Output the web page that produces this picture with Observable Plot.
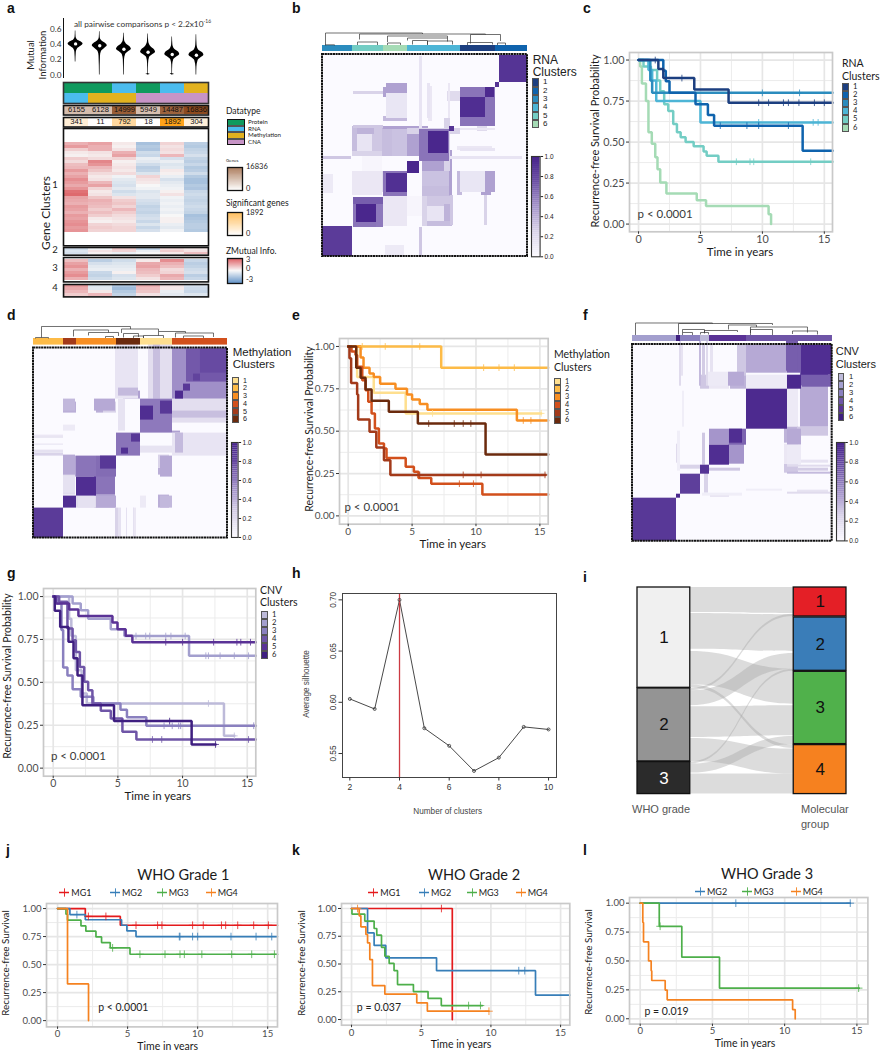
<!DOCTYPE html>
<html><head><meta charset="utf-8">
<style>
html,body{margin:0;padding:0;background:#fff}
#page{position:relative;width:880px;height:1050px;overflow:hidden;background:#fff}
#page svg{position:absolute;overflow:visible;background:transparent}
.t{position:absolute;white-space:nowrap;line-height:1}
.s{position:absolute;box-sizing:border-box}
sup{font-size:60%;line-height:0}
</style>
<script src="https://cdn.jsdelivr.net/npm/d3@7"></script>
<script src="https://cdn.jsdelivr.net/npm/@observablehq/plot@0.6"></script>
</head><body><div id="page"></div>
<script>
// ---------- palettes ----------
const rnaColors=["#1c3f80","#0f63ad","#2b8cbe","#4db5d6","#73cdc4","#a5dbb5"];
const metColors=["#fedf8f","#fdbb47","#f78e22","#d2501c","#a33a1a","#6b2a0d"];
const cnvColors=["#bdbad9","#a39fce","#8a80bf","#6f55a7","#5a3296","#3f1f80"];
const mgColors={MG1:"#e41a1c",MG2:"#377eb8",MG3:"#4daf4a",MG4:"#f58220"};
const clusterLabels=["1","2","3","4","5","6"];
const purpleDomain=[0,.25,.5,.75,1];
const purpleRange=["#fbfaff","#d9d3e9","#a595cb","#6c50a5","#45218a"];

// ---------- panel a ----------
const pairTop=["Protein","Protein","RNA","Protein","RNA","Methylation"];
const pairBottom=["RNA","Methylation","Methylation","CNA","CNA","CNA"];
const typeColors={Protein:"#0f9a5e",RNA:"#4bbcee",Methylation:"#e2b21f",CNA:"#c794c6"};
const geneCounts=[6155,6128,14999,5949,14487,16836];
const sigCounts=[341,11,792,18,1892,304];
const violinMedians=[.41,.385,.34,.30,.27,.26];
const violinProfiles=[
 [[.58,.01],[.50,.02],[.46,.08],[.44,.2],[.41,.31],[.38,.22],[.35,.09],[.30,.03],[.17,.012]],
 [[.57,.01],[.49,.02],[.45,.08],[.42,.22],[.385,.31],[.35,.2],[.31,.07],[.25,.03],[.0,.012]],
 [[.55,.01],[.46,.025],[.41,.1],[.37,.26],[.34,.31],[.31,.2],[.27,.07],[.2,.025],[.0,.012]],
 [[.54,.01],[.44,.025],[.38,.1],[.33,.27],[.30,.31],[.27,.2],[.23,.06],[.15,.02],[.02,.012],[.01,.08],[.0,.01]],
 [[.50,.01],[.40,.025],[.34,.1],[.30,.27],[.27,.31],[.24,.2],[.2,.06],[.13,.02],[.02,.012],[.01,.08],[.0,.01]],
 [[.53,.01],[.40,.025],[.33,.09],[.29,.27],[.26,.31],[.23,.2],[.19,.07],[.1,.02],[.0,.012]]
];
const zCluster1=[
[1.0,1.2,.2,-1.2,.5,-.9],[1.3,1.0,.1,-1.0,.3,-1.0],[.6,1.0,.3,-1.1,.4,-.8],[.2,.3,1.0,-.6,.3,-.7],
[.1,.2,1.2,-.7,.9,-.5],[.6,.4,.5,-.2,-.5,-.8],[.4,1.6,.1,-.3,-.2,-.9],[.8,1.4,.2,-.6,-.4,-.7],
[.9,.9,.3,-.9,-.3,-1.0],[1.3,.7,.2,-.8,.2,-.9],[1.0,.4,.4,-.4,.1,-.6],[1.2,.2,-.1,.5,-.2,-1.0],
[1.5,.3,-.3,.3,-.5,-1.2],[1.3,.9,-.4,.2,-.3,-1.2],[1.1,1.2,-.5,0,-.2,-1.0],[1.4,.5,-.3,-.1,-.1,-1.1],
[1.9,.2,-.6,-.4,.1,-.7],[2.0,.3,-.4,-.3,.3,-.6],[1.2,.7,.3,-.3,-.1,-.7],[1.1,1.0,.6,-.5,-.2,-.8],
[1.0,.9,.7,-.6,-.1,-.7],[1.3,.8,.5,-.8,-.2,-.6],[1.2,.6,.9,-.7,-.1,-.7],[1.0,.8,.6,-.8,-.2,-.8],
[1.3,.6,.4,-.6,0,-1.2],[1.2,.2,.3,-.5,.1,-1.1],[1.4,.1,.2,-.7,.1,-1.0],[1.5,.5,.4,-.4,-.2,-.9],
[1.3,.6,.5,-.7,-.3,-.9],[1.4,.5,.5,-.5,-.1,-1.0]];
const zCluster2=[[-.6,-.1,.6,-.8,.4,.2],[-.4,.3,.5,-.2,.6,.3],[-.5,.1,-.2,0,.2,.8]];
const zCluster3=[[.8,-.9,-.6,.2,1.5,-.7],[1.2,-.5,-.4,1.1,1.0,-.9],[1.4,-.3,-.3,1.2,.8,-.8],[1.0,-.2,-.2,.9,.4,-.6],
[1.3,-.7,.1,.8,.5,-.5],[1.5,-.8,-.5,.6,1.1,-.9],[1.0,-.6,-.4,.3,.9,-.7]];
const zCluster4=[[1.3,-.4,-1.1,1.0,.3,-.5],[1.1,-.3,-1.3,.8,.2,-.6],[.9,.2,-1.0,.7,-.2,-.7],[.6,.9,-.8,.3,-.3,-.4]];

// ---------- consensus blocks: [sampleFrom, sampleTo, sampleFrom2, sampleTo2, consensus] ----------
const bBounds=[[0,30,"3"],[30,61,"5"],[61,85,"6"],[85,138,"4"],[138,173,"1"],[173,205,"2"]];
const bBlocks=[
[61,85,159,169,.45],[61,85,135,140,.35],[64,85,140,159,.12],[31,61,162,165,.25],[31,50,100,130,.14],[50,61,100,130,.3],[31,61,122,130,.38],
[61,85,100,130,.45],[85,106,100,130,.45],[100,127,70,85,.32],[100,127,60,70,.34],[31,61,64,85,.2],[138,163,64,85,.13],[163,173,64,85,.45],
[100,130,52,60,.3],[100,130,30,35,.34],[100,105,30,60,.25],[61,85,30,60,.12],[97,100,0,29,.3],[63,82,0,11,.1],[125,138,155,165,.2],
[97,100,100,200,.14],[106,110,135,170,.12],[138,173,105,108,.14],[138,173,126,128,.12],[85,100,40,60,.03],[31,61,128,131,.3],[85,138,122,128,.25]];
const bDiag=[
[0,30,0,30,.86],[31,61,29,59,.62],[34,54,34,52,.97],[54,61,29,59,.6],[31,61,52,59,.7],[61,85,60,85,.62],[64,85,64,83,.92],
[85,97,83,95,.97],[97,127,95,127,.62],[106,126,103,125,.97],[127,132,125,130,.9],[138,173,130,169,.62],[138,163,139,159,.93],[163,172,159,169,.95],
[173,177,169,174,.9],[177,205,174,201,.9]];
const bDendro=[[3,100,12.5,.5,11.5],[37,163,11.5,6,11],[65,125,9.5,3.5,7.5],[85,125,7.5,5,4],[148,178,11,2,4.5],[145,170,3,.5,1],[175,183,2.5,.5,.5],[105,130,4.5,.5,1],[35,55,3.5,.5,.5],[65,78,2.5,.5,.5],[3,12,.7,0,0],[90,105,5,1,1]];

const dBounds=[[0,30,"2"],[30,43,"5"],[43,83,"3"],[83,107,"6"],[107,139,"1"],[139,194,"4"]];
const dBlocks=[
[0,30,100,103,.12],[0,30,82,85,.25],[30,43,125,136,.4],[63,70,125,136,.4],[70,83,125,136,.25],[85,100,140,190,.18],[88,92,140,190,.28],[120,127,140,190,.32],
[90,107,139,147,.45],[107,139,85,92,.15],[139,194,82,105,.14],[142,150,85,105,.35],[139,194,115,139,.18],[139,194,120,127,.33],[127,139,61,82,.42],[127,139,30,42,.36],[107,113,30,42,.1],
[85,88,0,30,.16],[93,94,0,30,.16],[100,101,0,30,.16],[30,43,61,82,.45],[43,63,61,82,.62],[63,83,30,42,.42],[43,63,30,42,.2],[45,62,30,42,.16]];
const dDiag=[
[0,30,0,30,.86],[30,43,30,42,.93],[43,63,42,61,.93],[63,83,61,82,.65],[67,83,69,82,.88],[83,107,82,105,.62],[98,107,96,104,.88],[88,95,84,90,.92],
[107,139,105,139,.6],[107,120,118,132,.93],[127,139,124,137,.88],[139,194,139,190,.52],[153,194,156,189,.72],[167,194,165,189,.78],[142,150,139,147,.95],[150,157,147,154,.88],[160,167,157,164,.82]];
const dDendro=[[8,97,12,1,9.5],[40,75,8.5,2,6],[55,85,6,3,2.5],[88,125,9.5,5.5,7],[125,152,7,3,5.5],[90,105,5,1,1.5],[100,110,2.5,.5,.5],[110,130,3,.5,.5],[142,180,5.5,1,1.5],[150,170,2.5,.5,.5],[72,80,2,.5,.5],[2,15,1,0,0]];

const fBounds=[[0,44,"2"],[44,48,"6"],[48,68,"3"],[68,77,"1"],[77,114,"5"],[114,200,"4"]];
const fBlocks=[
[114,155,168,196,.42],[155,169,168,196,.7],[170,200,154,166,.7],[114,155,152,166,.1],[98,114,152,166,.38],[68,77,152,166,.3],[77,97,152,166,.12],
[70,73,165,196,.28],[78,81,165,196,.15],[105,114,165,196,.3],[48,51,165,196,.15],[155,169,96,112,.42],[155,169,76,96,.1],[48,68,72,76,.25],
[155,200,74,76,.2],[155,200,67,69,.35],[155,200,47,49,.2],[78,97,44,46,.2],[70,73,76,108,.3],[77,97,96,112,.5],[45,48,70,110,.08],[114,150,50,52,.08]];
const fDiag=[
[0,44,0,43,.88],[44,48,43,47,.96],[48,68,47,67,.84],[68,77,67,76,.9],[77,97,76,96,.93],[97,114,96,112,.68],[97,110,98,112,.93],
[114,155,112,152,.95],[155,169,152,166,.96],[169,200,166,196,.93]];
const fDendro=[[3,80,12.5,.5,12],[46,140,12,1,10.5],[50,72,6,3,3],[72,105,5,2,3.5],[118,175,8.5,2.5,3],[118,140,6,.5,.5],[160,185,4.5,1.5,1],[50,60,3,.5,.5],[68,76,3,1,1],[96,124,10.5,6,8.5]];

// ---------- survival curves: [years, survival] ----------
const c1=[[0,1],[1.6,.945],[2,.89],[4.5,.82],[7.27,.74],[15.66,.74]];
const c2=[[0,1],[2,.935],[2.2,.87],[2.5,.80],[4.6,.73],[5.6,.665],[6.1,.60],[13.25,.447],[15.66,.447]];
const c3=[[0,1],[.95,.875],[1.1,.80],[15.66,.80]];
const c4=[[0,1],[.8,.94],[1.1,.875],[1.43,.75],[5,.62],[15.66,.62]];
const c5=[[0,1],[.4,.96],[1,.94],[1.5,.875],[1.75,.81],[2.07,.73],[2.4,.69],[2.8,.61],[3.1,.56],[3.4,.53],[3.8,.50],[4.45,.475],[5.25,.443],[5.5,.417],[6.45,.38],[15.66,.38]];
const c6=[[0,1],[.13,.96],[.27,.857],[.6,.75],[.8,.56],[1.07,.49],[1.35,.407],[1.53,.335],[1.75,.254],[2.25,.187],[4.7,.146],[5.45,.11],[10.5,.06],[10.7,0],[10.7,0]];
const c1c=[1.35,3.5,9.7,10.5,11.7,12.1,12.95,14.2,15],c2c=[6.6,8.75,9.7,12.1],c3c=[10,13],c4c=[9.7,14.1,14.5],c5c=[7.9,9,9.3,13.9],c6c=[];

const e1=[[.2,1],[.7,.82],[2,.727],[4.5,.605],[15.1,.605]];
const e2=[[0,1],[7.28,.875],[15.65,.875]];
const e3=[[0,1],[.97,.935],[1.2,.875],[1.67,.84],[2,.82],[2.5,.78],[3.7,.75],[4.6,.717],[5,.687],[5.6,.66],[6.2,.626],[13.2,.563],[15.65,.563]];
const e4=[[0,1],[.26,.97],[.57,.95],[.7,.88],[1.1,.80],[1.36,.742],[1.57,.673],[1.83,.604],[2.09,.516],[2.4,.427],[2.8,.398],[3,.342],[4.5,.29],[5.14,.26],[5.5,.224],[6.5,.19],[10.5,.126],[15.65,.126]];
const e5=[[0,1],[.1,.93],[.23,.785],[.7,.717],[.78,.569],[1.67,.496],[2.2,.404],[2.8,.329],[3.3,.242],[15.45,.242]];
const e6=[[0,1],[.63,.875],[.97,.815],[1.36,.746],[1.83,.679],[3.18,.614],[5.45,.545],[10.75,.362],[15.65,.362]];
const e1c=[6.6,15.1],e2c=[1.1,2.9,5.6,10.6,11.8,13],e3c=[13.7,14.3],e4c=[8.7,9.8],e5c=[5.6,9,10.4,15.4],e6c=[6.3,8.3,9,9.6];

const g1=[[0,1],[1.23,.87],[1.4,.77],[1.75,.57],[2.2,.435],[2.6,.377],[13.2,.188],[14,.188]];
const g2=[[0,1],[1.5,.96],[2.13,.92],[2.7,.87],[4.45,.81],[5.5,.77],[10.5,.655],[15.66,.655]];
const g3=[[0,1],[.3,.96],[.64,.805],[.77,.586],[1.1,.54],[1.5,.46],[2.13,.416],[3.1,.377],[5.2,.34],[5.7,.297],[7.2,.247],[15.66,.247]];
const g4=[[0,1],[.46,.97],[1.1,.814],[1.5,.746],[1.75,.677],[2.06,.59],[2.4,.503],[2.7,.454],[3.03,.377],[3.68,.334],[4.45,.289],[5.35,.212],[6.43,.167],[15.66,.167]];
const g5=[[0,1],[.2,.96],[1.23,.924],[1.95,.887],[4.58,.849],[4.97,.81],[5.6,.771],[6.12,.734],[15.66,.734]];
const g6=[[.1,1],[.12,.917],[.54,.823],[1.18,.736],[1.57,.64],[1.88,.54],[2.26,.367],[4.7,.274],[10.7,.138],[12.55,.138]];
const g1c=[12,14],g2c=[6.4,7.15,7.46,8.7,9.1,10.2,11.8,12,12.9,14,15.1],g3c=[8.57,9.2,9.7,9.85,15.5],g4c=[7.67,8.39,15.1],g5c=[8.7,10,12.4,14.2,14.5,15.25],g6c=[9,12.55];

const j1=[[0,1],[1.98,.93],[4.48,.851],[15.7,.851]];
const j2=[[0,1],[.88,.946],[1.98,.9],[4.57,.851],[4.95,.8],[5.6,.75],[15.7,.75]];
const j3=[[0,1],[.6,.95],[.71,.896],[1.67,.845],[2.02,.798],[2.74,.747],[3.14,.696],[3.76,.649],[5.17,.592],[15.7,.592]];
const j4=[[0,1],[.71,.327],[2.21,0],[2.21,0]];
const j1c=[2.2,3.45,5.6,7.14,7.45,9.64,10.4,11.7,12,12.86,14,15.05],j2c=[1.38,8.69,8.74,9.64,10,12.38,14.17,15.29],j3c=[3.93,5.88,7.67,8.74,9.05,10.3,12.43,13.86,15.48],j4c=[];

const k1=[[0,1],[7.23,0],[7.23,0]];
const k2=[[0,1],[1.15,.78],[1.62,.667],[2.46,.556],[6.1,.44],[13.2,.22],[15.66,.22]];
const k3=[[0,1],[.03,.95],[.95,.887],[1.62,.82],[1.81,.76],[2.15,.65],[2.39,.57],[2.7,.505],[3.05,.44],[3.3,.315],[4.44,.252],[5.49,.19],[6.44,.126],[9.38,.126]];
const k4=[[0,1],[.55,.934],[.67,.835],[1.03,.766],[1.15,.69],[1.31,.54],[1.5,.306],[2.39,.228],[4.68,.15],[5.44,.075],[9.86,.075]];
const k1c=[6.45],k2c=[12,12.43],k3c=[8.4,9.25],k4c=[.43,9.86];

const l2=[[0,1],[14.54,1]];
const l3=[[0,1],[1.32,.8],[2.88,.533],[5.49,.265],[15.16,.265]];
const l4=[[0,1],[.18,.833],[.23,.666],[.58,.5],[.76,.415],[.8,.331],[1.73,.248],[1.87,.164],[10.55,.08],[10.73,0],[10.73,0]];
const l2c=[6.62,14.54],l3c=[1.38,15.12],l4c=[];

// ---------- silhouette ----------
const silK=[2,3,4,5,6,7,8,9,10];
const silV=[.6033,.5935,.70,.5747,.5575,.533,.546,.576,.5735];

// ---------- alluvial: grade, group, left from/to, right from/to ----------
const gradeBars=[["1",0,301,"#f0f0f0","#111"],["2",303,522,"#949494","#111"],["3",524,620,"#2b2b2b","#fff"]];
const groupBars=[["1",0,87,"#e41f26","#111"],["2",90,250,"#3a7db8","#111"],["3",253,470,"#50b14b","#111"],["4",473,620,"#f6811f","#111"]];
const flows=[
["1-1",0,75,0,78],["1-2",78,185,82,192],["1-3",192,292,245,350],["1-4",292,301,473,483],
["2-1",303,310,80,87],["2-2",310,355,198,245],["2-3",358,450,355,445],["2-4",453,522,485,560],
["3-2",524,530,245,251],["3-3",530,557,447,472],["3-4",560,620,560,620]];

// ---------- helpers ----------
const page=document.getElementById("page");
const SANS="'Liberation Sans',Arial,sans-serif", HUM="Lato,'Noto Sans',sans-serif";
const BLUR="blur(0.6px)";
function put(svg,left,top){svg.style.left=left+"px";svg.style.top=top+"px";page.appendChild(svg);}
function txt(x,y,s,o={}){const d=document.createElement("div");d.className="t";d.innerHTML=s;
 const st=d.style;st.left=x+"px";st.top=y+"px";st.fontSize=(o.size||11)+"px";st.fontFamily=o.font||HUM;st.color=o.color||"#1a1a1a";
 if(o.weight)st.fontWeight=o.weight;
 const ax=o.anchor==="middle"?"-50%":o.anchor==="end"?"-100%":"0";
 st.transform=`translate(${ax},-50%)`+(o.rotate?` rotate(${o.rotate}deg)`:"");
 page.appendChild(d);}
function box(x,y,w,h,fill,stroke){const d=document.createElement("div");d.className="s";d.style.cssText=`left:${x}px;top:${y}px;width:${w}px;height:${h}px;background:${fill};border:${stroke||"1px solid #555"}`;page.appendChild(d);}
function swatches(x,y,w,totalH,colors,labels,labelX,size,font){const h=totalH/colors.length;
 colors.forEach((c,i)=>{box(x,y+i*h,w,h,c);txt(labelX,y+(i+.5)*h,labels[i],{size:size||7.6,font:font||HUM});});}
function stepAt(curve,t){let s=curve[0][1];for(const p of curve){if(p[0]<=t)s=p[1];}return s;}

function km(o){
 const mL=40,mR=6,mT=4,mB=22;
 const W=o.R-o.L,H=o.B-o.T;
 const lines=o.series.flatMap(s=>s.curve.map(([t,v])=>({t,v,name:s.name,color:s.color})));
 const marks=o.series.flatMap(s=>s.cens.map(t=>({t,v:stepAt(s.curve,t),color:s.color})));
 const fs=o.tickSize||10.8;
 put(Plot.plot({width:W+mL+mR,height:H+mT+mB,marginLeft:mL,marginRight:mR,marginTop:mT,marginBottom:mB,
  style:{fontFamily:HUM,background:"transparent"},
  x:{domain:o.xd,axis:null},y:{domain:o.yd,axis:null},color:{type:"identity"},
  marks:[
   Plot.ruleX([2.5,7.5,12.5],{stroke:"#ececec",strokeWidth:1}),
   Plot.ruleY([.125,.375,.625,.875],{stroke:"#ececec",strokeWidth:1}),
   Plot.ruleX([0,5,10,15],{stroke:"#e6e6e6",strokeWidth:1.7}),
   Plot.ruleY([0,.25,.5,.75,1],{stroke:"#e6e6e6",strokeWidth:1.7}),
   Plot.line(lines,{x:"t",y:"v",z:"name",stroke:"color",strokeWidth:o.sw||2.5,curve:"step-after",strokeLinejoin:"miter"}),
   Plot.dot(marks,{x:"t",y:"v",symbol:"plus",r:o.cr||2.3,stroke:"color",strokeWidth:.8}),
   Plot.frame({stroke:"#c9c9c9",strokeWidth:1.7}),
   Plot.axisX({ticks:[0,5,10,15],tickSize:2.5,tickPadding:1,fontSize:fs,color:"#4d4d4d",stroke:"#333",label:null,tickFormat:"d"}),
   Plot.axisY({ticks:[0,.25,.5,.75,1],tickSize:3,tickPadding:2,fontSize:fs,color:"#4d4d4d",stroke:"#333",label:null,tickFormat:".2f"}),
   Plot.text([o.p],{x:o.px,y:o.py,text:d=>d,textAnchor:"start",fontSize:o.pSize||11.5,fill:o.pColor||"#3a3a3a"})
  ]}),o.L-mL,o.T-mT);
}
function seg(data){ // U-shaped dendrogram merges
 return data.flatMap(([a,b,h,hl,hr])=>[{x1:a,x2:b,y1:h,y2:h},{x1:a,x2:a,y1:h,y2:hl},{x1:b,x2:b,y1:h,y2:hr}]);
}
function consensus(o){
 const ann=o.annotGap,bar=o.annotH,dh=o.dendroH,H=o.H,W=o.W,top=ann+bar+dh+1;
 const rows=o.blocks.flatMap(([a,b,c,d,v])=>[{x1:a,x2:b,y1:c,y2:d,v},{x1:c,x2:d,y1:a,y2:b,v}]);
 const diag=o.diag.map(([a,b,c,d,v])=>({x1:a,x2:b,y1:c,y2:d,v}));
 const base=H+ann+bar;
 const segs=seg(o.dendro).map(s=>({x1:s.x1,x2:s.x2,y1:base+s.y1,y2:base+s.y2}));
 const annRows=o.bounds.map(([a,b,k])=>({x1:a,x2:b,fill:o.colors[+k-1]}));
 put(Plot.plot({width:W+2,height:H+top+2,marginLeft:1,marginRight:1,marginTop:1,marginBottom:1,
  x:{domain:[0,W],axis:null},y:{domain:[0,H+top],axis:null},
  color:{type:"linear",domain:purpleDomain,range:purpleRange,interpolate:"rgb"},
  style:{background:"transparent"},
  marks:[
   Plot.rect([{v:0}],{x1:()=>0,x2:()=>W,y1:()=>0,y2:()=>H,fill:"v"}),
   Plot.rect(rows,{x1:"x1",x2:"x2",y1:"y1",y2:"y2",fill:"v",imageFilter:BLUR}),
   Plot.rect(diag,{x1:"x1",x2:"x2",y1:"y1",y2:"y2",fill:"v",imageFilter:BLUR}),
   Plot.rect([0],{x1:()=>0,x2:()=>W,y1:()=>0,y2:()=>H,fill:"none",stroke:"#111",strokeWidth:2,strokeDasharray:"2.2,.5"}),
   Plot.rect(annRows,{x1:"x1",x2:"x2",y1:()=>H+ann,y2:()=>H+ann+bar,fill:d=>d.fill}),
   Plot.link(segs,{x1:"x1",x2:"x2",y1:"y1",y2:"y2",stroke:"#333",strokeWidth:.7})
  ]}),o.L-1,o.T-top-1);
}
const barLevels=d3.range(0,1,.02);
function purpleBar(L,T,w,h,labelFont){
 put(Plot.plot({width:w+30,height:h+2,marginLeft:1,marginRight:29,marginTop:1,marginBottom:1,
  x:{domain:[0,1],axis:null},y:{domain:[0,1]},
  color:{type:"linear",domain:purpleDomain,range:purpleRange,interpolate:"rgb"},
  style:{background:"transparent",fontFamily:SANS},
  marks:[
   Plot.rect(barLevels,{x1:()=>0,x2:()=>1,y1:d=>d,y2:d=>d+.02,fill:d=>d+.01}),
   Plot.frame({stroke:"#333",strokeWidth:1.1}),
   Plot.axisY({anchor:"right",ticks:[0,.2,.4,.6,.8,1],tickFormat:".1f",tickSize:2.5,tickPadding:2,fontSize:labelFont||6.5,label:null,color:"#222"})
  ]}),L-1,T-1);
}
function gradBar(L,T,w,h,range,domain){
 const n=d3.range(0,1,.02).map(t=>domain[0]+t*(domain[domain.length-1]-domain[0]));
 const step=(domain[domain.length-1]-domain[0])*.02;
 put(Plot.plot({width:w+2,height:h+2,margin:1,x:{domain:[0,1],axis:null},y:{domain:[domain[0],domain[domain.length-1]],axis:null},
  color:{type:"linear",domain,range,interpolate:"rgb"},style:{background:"transparent"},
  marks:[Plot.rect(n,{x1:()=>0,x2:()=>1,y1:d=>d,y2:d=>d+step,fill:d=>d+step/2}),Plot.frame({stroke:"#111",strokeWidth:1.3})]}),L-1,T-1);
}

// ---------- panel a drawing ----------
const colIdx=[0,1,2,3,4,5];
const violinRows=violinProfiles.flatMap((p,i)=>p.map(([v,w])=>({i,v,a:i+.5-w,b:i+.5+w})));
put(Plot.plot({width:150,height:64,marginLeft:2,marginRight:3,marginTop:2,marginBottom:2,
 x:{domain:[0,6],axis:null},y:{domain:[-.047,.745],axis:null},style:{fontFamily:HUM,background:"transparent"},
 marks:[
  Plot.area(violinRows,{x1:"a",x2:"b",y1:"v",y2:"v",z:"i",fill:"#000",curve:"monotone-y"}),
  Plot.dot(violinMedians,{x:(d,i)=>i+.5,y:d=>d,r:1.7,fill:"#fff"})
 ]}),61,16);
put(Plot.plot({width:40,height:64,marginLeft:38,marginRight:1,marginTop:2,marginBottom:2,
 x:{domain:[0,1],axis:null},y:{domain:[-.047,.745],axis:null},style:{fontFamily:HUM,background:"transparent"},
 marks:[Plot.ruleX([0],{stroke:"#111",strokeWidth:1}),
  Plot.axisY({ticks:[0,.2,.4,.6],tickFormat:".1f",tickSize:0,tickPadding:2,fontSize:8.2,label:null,color:"#333"})]}),24.5,16);
txt(74,24,"all pairwise comparisons p &lt; 2.2x10<sup>-16</sup>",{size:8.3,color:"#333"});
txt(31,55,"Mutual",{size:9.5,anchor:"middle",rotate:-90,color:"#222"});
txt(43,55,"Information",{size:9.5,anchor:"middle",rotate:-90,color:"#222"});

function cellsPlot(T,H,values,fill,color,extra,frame,filter){
 // values: array of rows, each with 6 columns
 const rows=values.flatMap((r,ri)=>r.map((v,ci)=>({ri,ci,v})));
 put(Plot.plot({width:147,height:H+2,margin:1,x:{domain:colIdx,axis:null,padding:0},y:{domain:values.map((_,i)=>i),axis:null,padding:0},
  color,style:{fontFamily:SANS,background:"transparent"},
  marks:[Plot.cell(rows,{x:"ci",y:"ri",fill:fill,...(filter?{imageFilter:filter}:{})}),...(extra?extra(rows):[]),Plot.frame({stroke:frame||"#111",strokeWidth:1.6})]}),62.3,T-1);
}
cellsPlot(81.5,21,[pairTop,pairBottom],d=>typeColors[d.v],{type:"identity"},null,"#333");
const countColor={type:"linear",domain:[0,16836],range:["#ffffff","#8c4a1f"],interpolate:"rgb"};
const numText=r=>[Plot.text(r,{x:"ci",y:"ri",text:d=>String(d.v),fontSize:7.6,fill:"#111"})];
cellsPlot(105,9.5,[geneCounts],"v",countColor,numText);
const sigColor={type:"linear",domain:[0,1892],range:["#ffffff","#ffa31a"],interpolate:"rgb"};
cellsPlot(116.7,9.5,[sigCounts],"v",sigColor,numText);
const zColor={type:"linear",domain:[-3,0,3],range:["#2f6fb5","#f7f7f7","#d2232a"],interpolate:"rgb"};
cellsPlot(127.7,117.3,zCluster1,"v",zColor,null,null,BLUR);
cellsPlot(247.3,7.7,zCluster2,"v",zColor,null,null,BLUR);
cellsPlot(257.3,24.4,zCluster3,"v",zColor,null,null,BLUR);
cellsPlot(284.3,12.4,zCluster4,"v",zColor,null,null,BLUR);
txt(46,213,"Gene Clusters",{size:12,anchor:"middle",rotate:-90,color:"#222"});
[["1",185],["2",250],["3",268],["4",288]].forEach(([s,y])=>txt(55,y,s,{size:9.5,anchor:"middle",color:"#222"}));
txt(226,111,"Datatype",{size:8.5});
swatches(227,119,18,26,Object.values(typeColors),Object.keys(typeColors),248,6.2,HUM);
box(227,119,18,26,"transparent","1.3px solid #111");
txt(226,160.5,"Genes",{size:4.5});
gradBar(227,167,15,23,["#ffffff","#8c4a1f"],[0,16836]);
txt(246,167,"16836",{size:7.5});txt(246,189,"0",{size:7.5});
txt(226,203,"Significant genes",{size:8.5});
gradBar(227,212,15,23,["#ffffff","#ffa31a"],[0,1892]);
txt(246,212.5,"1892",{size:7.5});txt(246,234,"0",{size:7.5});
txt(226,250.5,"ZMutual Info.",{size:8.5});
gradBar(227,258,15,25,["#2f6fb5","#f7f7f7","#d2232a"],[-3,0,3]);
txt(246,259.5,"3",{size:7.5});txt(246,269,"0",{size:7.5});txt(246,280,"-3",{size:7.5});

// ---------- panel b ----------
consensus({L:321.7,T:54,W:205,H:202,annotGap:3,annotH:6,dendroH:13,blocks:bBlocks,diag:bDiag,bounds:bBounds,colors:rnaColors,dendro:bDendro});
txt(532.7,60,"RNA",{size:12,font:SANS,color:"#222"});txt(532.7,72,"Clusters",{size:12,font:SANS,color:"#222"});
swatches(532.3,78.3,7,50,rnaColors,clusterLabels,543,8,SANS);
purpleBar(530.7,155.7,8.6,100.3);

// ---------- panel c ----------
km({L:629.3,T:51.7,R:832.3,B:231,xd:[-.73,15.66],yd:[-.047,1.046],p:"p < 0.0001",px:-.08,py:.06,
 series:[c6,c5,c4,c3,c2,c1].map((s,i)=>({name:"c"+i,curve:s,color:rnaColors[5-i],cens:[c6c,c5c,c4c,c3c,c2c,c1c][i]}))});
txt(594,141,"Recurrence-free Survival Probability",{size:11,anchor:"middle",rotate:-90});
txt(740,251.7,"Time in years",{size:11.5,anchor:"middle"});
txt(842,63,"RNA",{size:10.5});txt(842,76,"Clusters",{size:10.5});
swatches(842,82.7,7,49,rnaColors,clusterLabels,853,7.6);

// ---------- panel d ----------
consensus({L:33.3,T:347.3,W:194,H:190,annotGap:3,annotH:6.6,dendroH:13,blocks:dBlocks,diag:dDiag,bounds:dBounds,colors:metColors,dendro:dDendro});
txt(232.7,352.7,"Methylation",{size:11.5,font:SANS,color:"#222"});txt(232.7,365,"Clusters",{size:11.5,font:SANS,color:"#222"});
swatches(232.3,376.7,6.8,46.5,metColors,clusterLabels,243,7.2,SANS);
purpleBar(230.7,442,6.6,95);

// ---------- panel e ----------
km({L:339,T:338.3,R:547.7,B:524,tickSize:10,xd:[-.68,15.65],yd:[-.049,1.047],p:"p < 0.0001",px:-.29,py:.053,
 series:[e1,e2,e3,e4,e5,e6].map((s,i)=>({name:"e"+i,curve:s,color:metColors[i],cens:[e1c,e2c,e3c,e4c,e5c,e6c][i]}))});
txt(309,429,"Recurrence-free Survival Probability",{size:10.5,anchor:"middle",rotate:-90});
txt(452.7,544,"Time in years",{size:11.5,anchor:"middle"});
txt(554,354,"Methylation",{size:10.5});txt(554,366.7,"Clusters",{size:10.5});
swatches(554,377.7,7,46.6,metColors,clusterLabels,565,7.2);

// ---------- panel f ----------
consensus({L:632,T:344,W:199.7,H:196.7,annotGap:3,annotH:6,dendroH:13,blocks:fBlocks,diag:fDiag,bounds:fBounds,colors:cnvColors,dendro:fDendro});
txt(835.7,351,"CNV",{size:11,font:SANS,color:"#222"});txt(835.7,363.7,"Clusters",{size:11,font:SANS,color:"#222"});
swatches(837.7,372.7,6.6,48,cnvColors,clusterLabels,849,7.6,SANS);
purpleBar(835.7,442.3,8.3,98.4);

// ---------- panel g ----------
km({L:42.7,T:588.3,R:255,B:776,tickSize:10.5,xd:[-.75,15.66],yd:[-.047,1.047],p:"p < 0.0001",px:-.18,py:.07,
 series:[g1,g2,g3,g4,g5,g6].map((s,i)=>({name:"g"+i,curve:s,color:cnvColors[i],cens:[g1c,g2c,g3c,g4c,g5c,g6c][i]}))});
txt(7.3,676,"Recurrence-free Survival Probability",{size:10.5,anchor:"middle",rotate:-90});
txt(157.7,796.2,"Time in years",{size:11.5,anchor:"middle"});
txt(260,590,"CNV",{size:10.5});txt(260,602,"Clusters",{size:10.5});
swatches(261,611,7,48,cnvColors,clusterLabels,272,7.6);

// ---------- panel h ----------
put(Plot.plot({width:214+30,height:184+26,marginLeft:26,marginRight:4,marginTop:2,marginBottom:24,
 x:{domain:[1.705,10.32],axis:null},y:{domain:[.5266,.7062],axis:null},style:{fontFamily:SANS,background:"transparent"},
 marks:[
  Plot.line(silK,{x:d=>d,y:(d,i)=>silV[i],stroke:"#333",strokeWidth:.9}),
  Plot.ruleX([4],{stroke:"#cc3a42",strokeWidth:1.3}),
  Plot.dot(silK,{x:d=>d,y:(d,i)=>silV[i],r:1.5,stroke:"#333",strokeWidth:.8,fill:"none"}),
  Plot.frame({stroke:"#444",strokeWidth:1}),
  Plot.axisX({ticks:[2,4,6,8,10],tickSize:3.5,tickPadding:3,fontSize:8.5,color:"#333",label:null,stroke:"#333"}),
  Plot.axisY({ticks:[.55,.6,.65,.7],tickFormat:".2f",tickRotate:-90,tickSize:3.5,tickPadding:3,fontSize:8.2,color:"#333",label:null,stroke:"#333"})
 ]}),315.7,590.7);
txt(306.7,684,"Average silhouette",{size:8.2,font:SANS,anchor:"middle",rotate:-90,color:"#444"});
txt(447.7,812,"Number of clusters",{size:8.2,font:SANS,anchor:"middle",color:"#444"});

// ---------- panel i ----------
const flowRows=flows.flatMap(([k,a,b,c,d])=>[{k,x:0,y1:a,y2:b},{k,x:1,y1:c,y2:d}]);
const stratum=(bars,x1,x2)=>bars.map(([k,a,b,fill,ink])=>({k,a,b,fill,ink,x1,x2}));
const strata=[...stratum(gradeBars,-.51,0),...stratum(groupBars,1,1.51)];
put(Plot.plot({width:211,height:208.6,margin:1,x:{domain:[-.51,1.51],axis:null},y:{domain:[620,0],axis:null},color:{type:"identity"},
 style:{fontFamily:SANS,background:"transparent"},
 marks:[
  Plot.area(flowRows,{x1:"x",y1:"y1",y2:"y2",z:"k",curve:"bump-x",fill:"#a2a2a2",fillOpacity:.38}),
  Plot.rect(strata,{x1:"x1",x2:"x2",y1:"a",y2:"b",fill:"fill",stroke:"#111",strokeWidth:1.3}),
  Plot.text(strata,{x:d=>(d.x1+d.x2)/2,y:d=>(d.a+d.b)/2,text:"k",fill:"ink",fontSize:17})
 ]}),635.7,585.7);
txt(632,809,"WHO grade",{size:11,font:SANS,color:"#555"});
txt(801,809,"Molecular",{size:11,font:SANS,color:"#555"});
txt(801,824,"group",{size:11,font:SANS,color:"#555"});

// ---------- panels j k l ----------
function mgLegend(items,y){items.forEach(([k,x])=>{
 put(Plot.plot({width:12,height:8,margin:1,x:{domain:[0,1],axis:null},y:{domain:[0,1],axis:null},style:{background:"transparent"},
  marks:[Plot.ruleY([.5],{stroke:mgColors[k],strokeWidth:1.5}),Plot.dot([.5],{x:d=>d,y:()=>.5,symbol:"plus",r:2.8,stroke:mgColors[k],strokeWidth:.9})]}),x-1,y-4);
 txt(x+12,y,k,{size:9,color:"#222"});
});}
const kmOpts={sw:1.7,cr:2.6,tickSize:9.6,pSize:10.5,pColor:"#222"};
km({L:45.7,T:903.3,R:276.7,B:1026.7,xd:[-.79,15.7],yd:[-.056,1.045],p:"p < 0.0001",px:2.9,py:.113,...kmOpts,
 series:[j1,j2,j3,j4].map((s,i)=>({name:"j"+i,curve:s,color:Object.values(mgColors)[i],cens:[j1c,j2c,j3c,j4c][i]}))});
txt(183.3,875,"WHO Grade 1",{size:14.5,anchor:"middle"});
mgLegend([["MG1",59.3],["MG2",110],["MG3",156.7],["MG4",205.7]],891.7);
txt(5.7,963,"Recurrence-free Survival",{size:9.8,anchor:"middle",rotate:-90});
txt(167.7,1045.5,"Time in years",{size:10.5,anchor:"middle"});

km({L:340.7,T:903.3,R:569,B:1025,xd:[-.72,15.66],yd:[-.051,1.045],p:"p = 0.037",px:.38,py:.105,...kmOpts,
 series:[k1,k2,k3,k4].map((s,i)=>({name:"k"+i,curve:s,color:Object.values(mgColors)[i],cens:[k1c,k2c,k3c,k4c][i]}))});
txt(474,875,"WHO Grade 2",{size:14.5,anchor:"middle"});
mgLegend([["MG1",368.3],["MG2",419],["MG3",466.7],["MG4",515.7]],891.7);
txt(301.7,963,"Recurrence-free Survival",{size:9.8,anchor:"middle",rotate:-90});
txt(461,1044,"Time in years",{size:10.5,anchor:"middle"});

km({L:629.3,T:896.7,R:867.7,B:1023.3,xd:[-.74,15.76],yd:[-.046,1.049],p:"p = 0.019",px:.3,py:.06,...kmOpts,
 series:[l2,l3,l4].map((s,i)=>({name:"l"+i,curve:s,color:[mgColors.MG2,mgColors.MG3,mgColors.MG4][i],cens:[l2c,l3c,l4c][i]}))});
txt(767,874,"WHO Grade 3",{size:14.5,anchor:"middle"});
mgLegend([["MG2",695],["MG3",741.7],["MG4",790.7]],890.7);
txt(589,962,"Recurrence-free Survival",{size:9.8,anchor:"middle",rotate:-90});
txt(745,1042.7,"Time in years",{size:10.5,anchor:"middle"});

// ---------- panel letters ----------
[["a",7,8],["b",292,8],["c",583,8],["d",7,315],["e",292,315],["f",583,315],["g",7,573],["h",292,573],["i",583,577],["j",6,850],["k",292,850],["l",583,850]]
 .forEach(([s,x,y])=>txt(x,y,s,{size:14,font:SANS,weight:"bold",color:"#111"}));
</script></body></html>
